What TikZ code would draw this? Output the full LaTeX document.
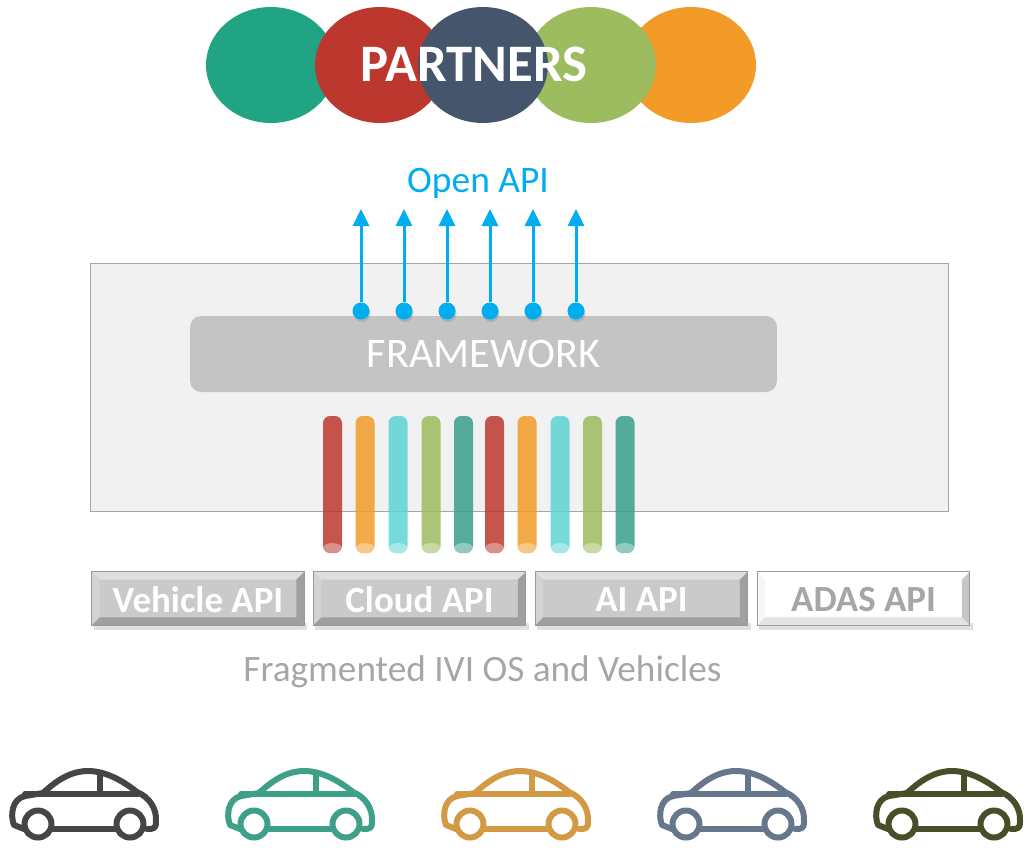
\documentclass[tikz,border=0pt]{standalone}
\usepackage{fontspec}
\setmainfont{Carlito}
\usetikzlibrary{arrows.meta,shadows,shapes.geometric}
\definecolor{gr1}{HTML}{F1F1F1}
\definecolor{gr2}{HTML}{C4C4C4}
\definecolor{teal1}{HTML}{20A484}
\definecolor{teal2}{HTML}{3A9F8C}
\definecolor{red1}{HTML}{BC382E}
\definecolor{navy1}{HTML}{45566C}
\definecolor{grn1}{HTML}{9DBC60}
\definecolor{org1}{HTML}{F29B28}
\definecolor{cyan1}{HTML}{5FD3D3}
\definecolor{sky1}{HTML}{00ADEF}
\definecolor{txt1}{HTML}{A6A6A6}
\definecolor{car1}{HTML}{454545}
\definecolor{car2}{HTML}{3FA08A}
\definecolor{car3}{HTML}{D39A45}
\definecolor{car4}{HTML}{66778C}
\definecolor{car5}{HTML}{4A4E28}
\tikzset{
    partner/.style={ellipse, inner sep=0pt, minimum width=2.6cm, minimum height=2.32cm},
    apidot/.style={circle, fill=sky1, inner sep=0pt, minimum size=.34cm, drop shadow={shadow xshift=.02cm, shadow yshift=-.05cm, opacity=.3}},
    apiarrow/.style={draw=sky1, line width=.06cm, -{Triangle[length=.34cm, width=.32cm]}},
    apibutton/.style={inner sep=0pt, minimum width=4.24cm, minimum height=1.06cm, font=\bfseries\fontsize{21}{21}\selectfont},
    carline/.style={line width=.12cm, line join=round, line cap=round},
}
% one bar of the bundle: x, colour
\newcommand{\apibar}[2]{
    \fill[#2, opacity=.85, rounded corners=.14cm](#1-9.5, 416)rectangle(#1+9.5, 553);
    \fill[white, opacity=.35](#1, 548)ellipse(9.5 and 5);
}
% bevel round a button: name, face, top, left, right, bottom
\newcommand{\apibevel}[6]{
    \fill[black, opacity=.12](#1.south west)++(2, -2)rectangle([shift={(3, 5)}]#1.south east);
    \fill[#2](#1.south west)rectangle(#1.north east);
    \fill[#3](#1.north west)--(#1.north east)--([shift={(-8, 8)}]#1.north east)--([shift={(8, 8)}]#1.north west)--cycle;
    \fill[#4](#1.north west)--(#1.south west)--([shift={(8, -8)}]#1.south west)--([shift={(8, 8)}]#1.north west)--cycle;
    \fill[#5](#1.north east)--(#1.south east)--([shift={(-8, -8)}]#1.south east)--([shift={(-8, 8)}]#1.north east)--cycle;
    \fill[#6](#1.south west)--(#1.south east)--([shift={(-8, -8)}]#1.south east)--([shift={(8, -8)}]#1.south west)--cycle;
    \draw[gray!80, line width=.02cm](#1.south west)rectangle(#1.north east);
}
% one car, drawn at the offset x
\newcommand{\apicar}[2]{
    \begin{scope}[xshift=#1*.02cm, draw=#2, carline]
        \draw(24, 829)--(14, 825).. controls (10, 815) and (12, 799) .. (25, 796)--(43, 793)
            .. controls (58, 779) and (72, 771) .. (88, 771)
            .. controls (105, 771) and (122, 780) .. (137, 792)
            .. controls (149, 797) and (157, 808) .. (156, 822)
            .. controls (156, 829) and (153, 829) .. (147, 829);
        \draw(25, 794)--(138, 794);
        \draw(100, 794)--(100, 773);
        \draw(52, 829)--(115, 829);
        \draw(38, 824)circle(13.5);
        \draw(130, 824)circle(13.5);
    \end{scope}
}
\begin{document}
\begin{tikzpicture}[x=.02cm, y=-.02cm]
    \useasboundingbox(0, 0)rectangle(1031, 850);
    % partners
    \node[partner, fill=teal1](ptA) at(271, 65){};
    \node[partner, fill=org1](ptE) at(691, 65){};
    \node[partner, fill=grn1](ptD) at(591, 65){};
    \node[partner, fill=red1](ptB) at(380, 65){};
    \node[partner, fill=navy1](ptC) at(483, 65){};
    \node[text=white, font=\bfseries\fontsize{30}{30}\selectfont](ptLabel) at(474, 64){PARTNERS};
    \node[text=sky1, font=\fontsize{21.3}{21}\selectfont](openApi) at(478, 183){Open API};
    % platform
    \node[draw=gray!70, fill=gr1, line width=.02cm, inner sep=0pt, minimum width=17.18cm, minimum height=4.98cm](platform) at(519.5, 387.5){};
    \node[fill=gr2, rounded corners=.22cm, inner sep=0pt, minimum width=11.74cm, minimum height=1.52cm, text=white, font=\fontsize{24}{24}\selectfont](framework) at(483.5, 354){FRAMEWORK};
    % arrows
    \foreach \i/\x in {1/361, 2/404, 3/447, 4/490, 5/533, 6/576}{
        \node[apidot](dot\i) at(\x, 311){};
        \coordinate(tip\i) at(\x, 209);
        \draw[apiarrow](dot\i)--(tip\i);
    }
    % bars
    \foreach \x/\c in {332.5/red1, 365/org1, 398/cyan1, 431/grn1, 463.5/teal2, 494.5/red1, 527/org1, 560/cyan1, 592.5/grn1, 625/teal2}
        \apibar{\x}{\c};
    % buttons
    \foreach \n/\x/\t in {btA/198/Vehicle API, btB/419.5/Cloud API, btC/641.5/AI API}{
        \node[apibutton](\n) at(\x, 598.5){};
        \apibevel{\n}{gr2!90!white}{gr2!55!white}{gr2!75!white}{gray!75}{gray!75}
        \node[apibutton, text=white](\n Label) at(\x, 600){\t};
    }
    \node[apibutton](btD) at(863.5, 598.5){};
    \apibevel{btD}{white}{white}{gray!6}{gray!45}{gray!22}
    \node[apibutton, text=txt1](btDLabel) at(863.5, 600){ADAS API};
    \node[text=txt1, font=\fontsize{21.2}{21}\selectfont](fragLabel) at(482.5, 672){Fragmented IVI OS and Vehicles};
    % cars
    \apicar{0}{car1}
    \apicar{216}{car2}
    \apicar{432}{car3}
    \apicar{648}{car4}
    \apicar{864}{car5}
\end{tikzpicture}
\end{document}
